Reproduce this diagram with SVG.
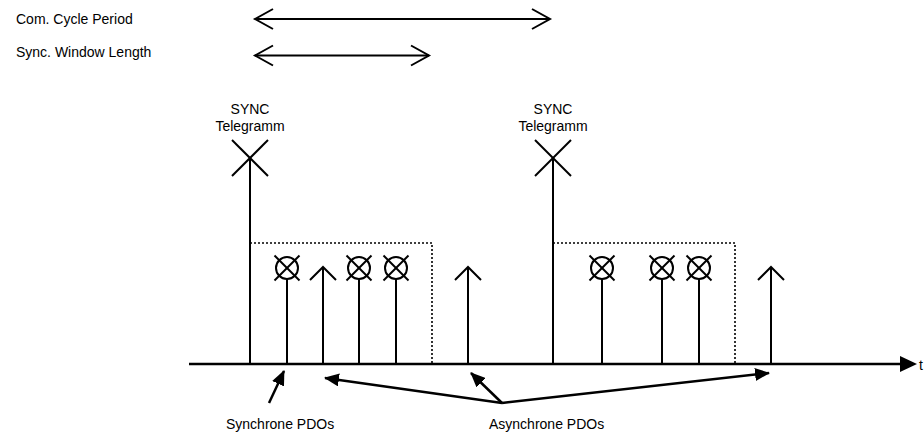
<svg xmlns="http://www.w3.org/2000/svg" width="924" height="435" viewBox="0 0 924 435">
<style>
text{font-family:"Liberation Sans",Arial,sans-serif;font-size:14px;fill:#000}
.c{text-anchor:middle}
.ln{stroke:#000;stroke-width:2;fill:none}
.ax{stroke:#000;stroke-width:2.5;fill:none}
.dot{stroke:#000;stroke-width:1.6;fill:none;stroke-dasharray:2 2}
.an{stroke:#000;stroke-width:2.5;fill:none;marker-end:url(#fh)}
</style>
<defs>
<marker id="fh" markerUnits="userSpaceOnUse" viewBox="0 0 15 13" markerWidth="15" markerHeight="13" refX="14" refY="6.5" orient="auto">
<path d="M0,0 L15,6.5 L0,13 z" fill="#000"/>
</marker>
<g id="pdo">
<line class="ln" x1="0" y1="11" x2="0" y2="96"/>
<circle class="ln" cx="0" cy="0" r="11"/>
<line class="ln" x1="-12.5" y1="-12.5" x2="12.5" y2="12.5"/>
<line class="ln" x1="12.5" y1="-12.5" x2="-12.5" y2="12.5"/>
</g>
<g id="up">
<line class="ln" x1="0" y1="0" x2="0" y2="97"/>
<polyline class="ln" points="-13,13 0,0 13,13"/>
</g>
<g id="sync">
<line class="ln" x1="0" y1="0" x2="0" y2="206"/>
<line class="ln" x1="-18" y1="-18" x2="18" y2="18"/>
<line class="ln" x1="18" y1="-18" x2="-18" y2="18"/>
</g>
</defs>

<g id="legend">
<text x="16" y="24">Com. Cycle Period</text>
<text x="16" y="57">Sync. Window Length</text>
<line class="ln" x1="255" y1="19" x2="550" y2="19"/>
<polyline class="ln" points="273,9 255,19 273,29"/>
<polyline class="ln" points="532,9 550,19 532,29"/>
<line class="ln" x1="255" y1="55.5" x2="429" y2="55.5"/>
<polyline class="ln" points="273,45.5 255,55.5 273,65.5"/>
<polyline class="ln" points="411,45.5 429,55.5 411,65.5"/>
</g>

<g id="axis">
<line class="ax" x1="189" y1="364" x2="902" y2="364"/>
<polygon points="900,356 917,364 900,372" fill="#000"/>
<text x="919" y="370">t</text>
</g>

<g id="sync1">
<text class="c" x="250" y="114">SYNC</text>
<text class="c" x="250" y="131">Telegramm</text>
<use href="#sync" x="250" y="158"/>
</g>
<g id="window1">
<path class="dot" d="M250,243 H432 V364"/>
</g>
<g id="pdo1"><use href="#pdo" x="287" y="268"/></g>
<g id="async1"><use href="#up" x="323" y="267"/></g>
<g id="pdo2"><use href="#pdo" x="359" y="268"/></g>
<g id="pdo3"><use href="#pdo" x="396" y="268"/></g>
<g id="async2"><use href="#up" x="468" y="267"/></g>

<g id="sync2">
<text class="c" x="553" y="114">SYNC</text>
<text class="c" x="553" y="131">Telegramm</text>
<use href="#sync" x="553" y="158"/>
</g>
<g id="window2">
<path class="dot" d="M553,243 H735 V364"/>
</g>
<g id="pdo4"><use href="#pdo" x="602" y="268"/></g>
<g id="pdo5"><use href="#pdo" x="662" y="268"/></g>
<g id="pdo6"><use href="#pdo" x="699" y="268"/></g>
<g id="async3"><use href="#up" x="771" y="267"/></g>

<g id="label-sync">
<text x="226" y="429">Synchrone PDOs</text>
</g>
<g id="label-async">
<text x="489" y="429">Asynchrone PDOs</text>
</g>

<g id="connectors">
<line class="an" x1="269" y1="403" x2="284" y2="371"/>
<line class="an" x1="502" y1="403" x2="325" y2="378"/>
<line class="an" x1="502" y1="403" x2="471" y2="373"/>
<line class="an" x1="502" y1="403" x2="769" y2="373"/>
</g>
</svg>
